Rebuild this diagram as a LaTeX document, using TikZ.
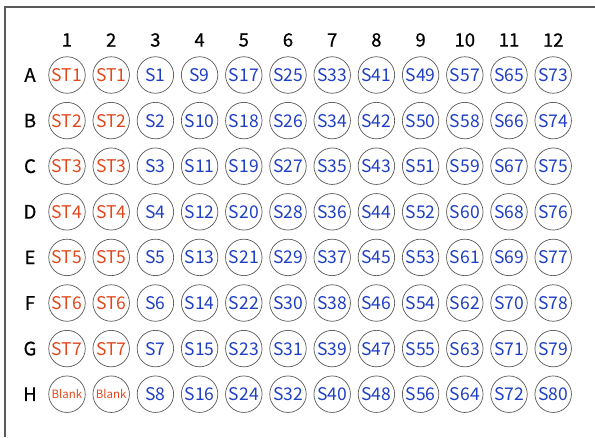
\documentclass[tikz,border=0pt]{standalone}
\usepackage{fontspec}
\setmainfont{Noto Sans CJK SC}[BoldFont={Noto Sans CJK SC},BoldFeatures={FakeBold=0.6}]
\definecolor{stc}{HTML}{E2471C}
\definecolor{smp}{HTML}{1F3FC4}
\definecolor{rim}{HTML}{5A5A5A}
\begin{document}
\begin{tikzpicture}[x=1pt,y=-1pt,
  well/.style={circle,draw=rim,line width=0.7pt,minimum size=36.5pt,inner sep=0pt,font=\fontsize{17.5}{18}\selectfont},
  stdw/.style={well,text=stc},
  smpw/.style={well,text=smp},
  blankw/.style={well,text=stc,font=\fontsize{11.5}{12}\selectfont},
  hdr/.style={font=\fontsize{18.5}{19}\selectfont\bfseries,text=black}]
\useasboundingbox (0,0) rectangle (595,437);
\draw[rim,line width=1.3pt] (5,437) coordinate (fb) -- (5,7) coordinate (fc) -- (595,7) coordinate (fr);
\foreach \c in {1,...,12} {
  \node[hdr] (col\c) at ({67+44.2*(\c-1)},40) {\c};
}
\foreach \r/\L [count=\i from 0] in {1/A,2/B,3/C,4/D,5/E,6/F,7/G,8/H} {
  \node[hdr] (row\L) at (30,{75+45.6*\i}) {\L};
}
\foreach \r/\L [count=\i from 0] in {1/A,2/B,3/C,4/D,5/E,6/F,7/G} {
  \node[stdw] (w\L1) at (67,{75+45.6*\i}) {ST\r};
  \node[stdw] (w\L2) at (111.2,{75+45.6*\i}) {ST\r};
}
\node[blankw] (wH1) at (67,{75+45.6*7}) {Blank};
\node[blankw] (wH2) at (111.2,{75+45.6*7}) {Blank};
\foreach \L [count=\i from 0] in {A,B,C,D,E,F,G,H} {
  \foreach \c in {3,...,12} {
    \pgfmathtruncatemacro{\s}{(\c-3)*8+\i+1}
    \node[smpw] (w\L\c) at ({67+44.2*(\c-1)},{75+45.6*\i}) {S\s};
  }
}
\end{tikzpicture}
\end{document}
